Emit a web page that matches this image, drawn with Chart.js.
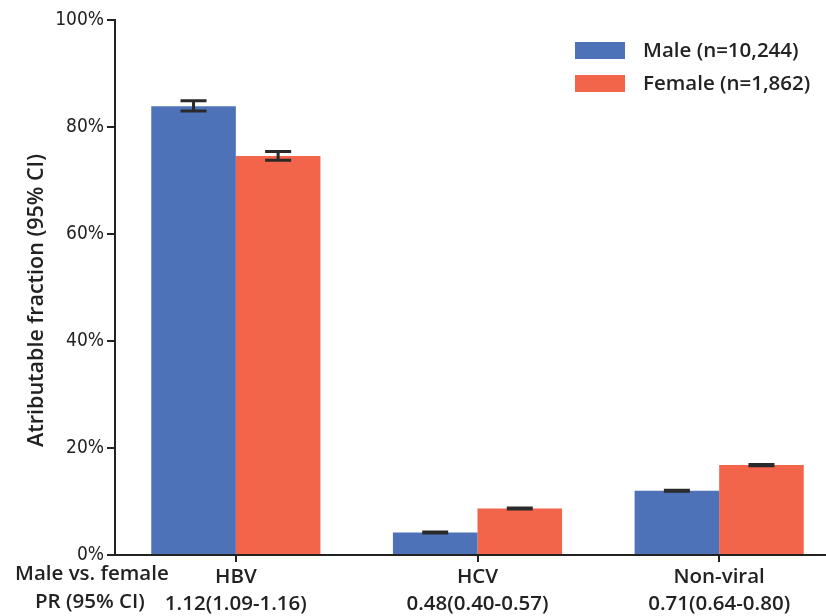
<!DOCTYPE html>
<html>
<head>
<meta charset="utf-8">
<script src="https://cdn.jsdelivr.net/npm/chart.js@4/dist/chart.umd.min.js"></script>
<style>
html,body{margin:0;padding:0;background:#fff;overflow:hidden;}
#wrap{position:relative;width:840px;height:616px;}
</style>
</head>
<body>
<div id="wrap"><canvas id="c" width="840" height="616"></canvas></div>
<script>
const categories = ['HBV', 'HCV', 'Non-viral'];
const prLabels = ['1.12(1.09-1.16)', '0.48(0.40-0.57)', '0.71(0.64-0.80)'];
const seriesNames = ['Male (n=10,244)', 'Female (n=1,862)'];
const maleValues = [83.9, 4.2, 12.0];
const maleLow = [83.0, 4.1, 11.9];
const maleHigh = [84.9, 4.3, 12.1];
const femaleValues = [74.6, 8.7, 16.8];
const femaleLow = [73.8, 8.6, 16.7];
const femaleHigh = [75.4, 8.8, 16.9];
const yTicks = [0, 20, 40, 60, 80, 100];
const yTitle = 'Atributable fraction (95% CI)';

const TEXT = '#222222';
const FONT = 'Open Sans';
const WEIGHT = '600';
const SIZE = 20.5;
const BLUE = '#4E72B8';
const RED = '#F2654B';

const errorBars = {
  id: 'errorBars',
  afterDatasetsDraw(chart) {
    const ctx = chart.ctx;
    const y = chart.scales.y;
    const lows = [maleLow, femaleLow];
    const highs = [maleHigh, femaleHigh];
    ctx.save();
    ctx.strokeStyle = '#2a2a2a';
    ctx.lineWidth = 3;
    chart.data.datasets.forEach((ds, i) => {
      const meta = chart.getDatasetMeta(i);
      meta.data.forEach((bar, j) => {
        const yl = y.getPixelForValue(lows[i][j]);
        const yh = y.getPixelForValue(highs[i][j]);
        const x = bar.x;
        ctx.beginPath();
        ctx.moveTo(x, yl); ctx.lineTo(x, yh);
        ctx.moveTo(x - 13, yl); ctx.lineTo(x + 13, yl);
        ctx.moveTo(x - 13, yh); ctx.lineTo(x + 13, yh);
        ctx.stroke();
      });
    });
    ctx.restore();
  }
};

const customText = {
  id: 'customText',
  afterDraw(chart) {
    const ctx = chart.ctx;
    const area = chart.chartArea;
    ctx.save();
    const colors = [BLUE, RED];
    ctx.font = WEIGHT + ' ' + SIZE + 'px "' + FONT + '"';
    ctx.textBaseline = 'middle';
    ctx.textAlign = 'left';
    seriesNames.forEach((name, i) => {
      const by = area.top + 22 + i * 33;
      ctx.fillStyle = colors[i];
      ctx.fillRect(575, by, 50, 17);
      ctx.fillStyle = TEXT;
      ctx.fillText(name, 643, by + 9);
    });
    const xs = chart.scales.x;
    const top = xs.top + 7 + 2;
    ctx.textBaseline = 'top';
    ctx.fillText('Male vs. female', 15, top);
    ctx.fillText('PR (95% CI)', 35, top + SIZE * 1.35);
    // y axis title
    ctx.translate(37, (area.top + area.bottom) / 2 + 13);
    ctx.rotate(-Math.PI / 2);
    ctx.textAlign = 'center';
    ctx.textBaseline = 'middle';
    ctx.font = WEIGHT + ' 21.5px "' + FONT + '"';
    ctx.fillText(yTitle, 0, 0);
    ctx.restore();
  }
};

new Chart(document.getElementById('c'), {
  type: 'bar',
  data: {
    labels: categories.map((c, i) => [c, prLabels[i]]),
    datasets: [
      { label: seriesNames[0], data: maleValues, backgroundColor: BLUE, borderWidth: 0 },
      { label: seriesNames[1], data: femaleValues, backgroundColor: RED, borderWidth: 0 }
    ]
  },
  options: {
    responsive: false,
    animation: false,
    devicePixelRatio: 1,
    layout: { padding: { top: 20, left: 0, right: 0, bottom: 0 } },
    plugins: { legend: { display: false }, tooltip: { enabled: false } },
    datasets: { bar: { categoryPercentage: 0.70, barPercentage: 1.0 } },
    scales: {
      x: {
        type: 'category',
        offset: true,
        grid: { offset: false, drawOnChartArea: false, drawTicks: true, tickLength: 7, color: TEXT, lineWidth: 2 },
        border: { display: true, color: TEXT, width: 2 },
        ticks: { color: TEXT, font: { family: FONT, size: SIZE, weight: WEIGHT, lineHeight: 1.35 }, padding: 1, maxRotation: 0, autoSkip: false },
        afterFit(scale) { scale.height = 61; }
      },
      y: {
        min: 0, max: 100,
        afterBuildTicks(scale) { scale.ticks = yTicks.map(v => ({ value: v })); },
        grid: { drawOnChartArea: false, drawTicks: true, tickLength: 8, color: TEXT, lineWidth: 2 },
        border: { display: true, color: TEXT, width: 2 },
        ticks: { color: TEXT, font: { family: '"DejaVu Sans Condensed", "Liberation Sans"', size: 19 }, padding: 3, callback: v => v + '%' },
        title: { display: false },
        afterFit(scale) { scale.width = 115; }
      }
    }
  },
  plugins: [errorBars, customText]
});
</script>
</body>
</html>
